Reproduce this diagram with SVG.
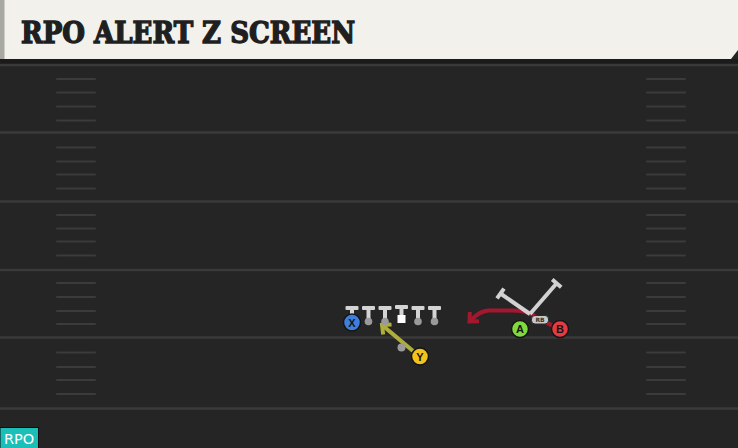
<svg xmlns="http://www.w3.org/2000/svg" width="738" height="448" viewBox="0 0 738 448">
  <defs>
    <style>
      .yard { stroke: #3a3a3a; stroke-width: 2.5; }
      .hash { stroke: #3b3b3b; stroke-width: 2; stroke-linecap: round; }
      .stem { fill: #d4d4d4; }
      .dot { fill: #9a9a9a; }
      .player { stroke: #151515; stroke-width: 1.5; }
      .plabel { font-family: "Liberation Sans", Arial, sans-serif; font-weight: bold; font-size: 11px; fill: #151515; text-anchor: middle; }
      .block { stroke: #d2d2d2; stroke-width: 4; fill: none; stroke-linecap: butt; }
      .blockcap { stroke: #d2d2d2; stroke-width: 4; stroke-linecap: butt; }
    </style>
    <marker id="arrow-red" markerUnits="userSpaceOnUse" markerWidth="16" markerHeight="16" viewBox="0 0 16 16" refX="11" refY="8" orient="auto">
      <path d="M4,1.5 L11,8 L4,14.5" fill="none" stroke="#a3172f" stroke-width="4"/>
    </marker>
    <marker id="arrow-olive" markerUnits="userSpaceOnUse" markerWidth="16" markerHeight="16" viewBox="0 0 16 16" refX="11" refY="8" orient="auto">
      <path d="M4,1.5 L11,8 L4,14.5" fill="none" stroke="#aeae3c" stroke-width="4"/>
    </marker>
  </defs>

  <!-- field -->
  <rect x="0" y="0" width="738" height="448" fill="#252525"/>
  <rect x="0" y="59" width="738" height="6" fill="#1b1b1b"/>
  <g id="yard-lines">
    <line class="yard" x1="0" y1="65" x2="738" y2="65"/>
    <line class="yard" x1="0" y1="132.5" x2="738" y2="132.5"/>
    <line class="yard" x1="0" y1="201.5" x2="738" y2="201.5"/>
    <line class="yard" x1="0" y1="270" x2="738" y2="270"/>
    <line class="yard" x1="0" y1="337.5" x2="738" y2="337.5"/>
    <line class="yard" x1="0" y1="408.5" x2="738" y2="408.5"/>
  </g>
  <g id="hash-left">
    <line class="hash" x1="57" y1="79" x2="95" y2="79"/>
    <line class="hash" x1="57" y1="92.5" x2="95" y2="92.5"/>
    <line class="hash" x1="57" y1="106.5" x2="95" y2="106.5"/>
    <line class="hash" x1="57" y1="120.5" x2="95" y2="120.5"/>
    <line class="hash" x1="57" y1="147.5" x2="95" y2="147.5"/>
    <line class="hash" x1="57" y1="161.5" x2="95" y2="161.5"/>
    <line class="hash" x1="57" y1="174.5" x2="95" y2="174.5"/>
    <line class="hash" x1="57" y1="188.5" x2="95" y2="188.5"/>
    <line class="hash" x1="57" y1="215" x2="95" y2="215"/>
    <line class="hash" x1="57" y1="228.5" x2="95" y2="228.5"/>
    <line class="hash" x1="57" y1="241.5" x2="95" y2="241.5"/>
    <line class="hash" x1="57" y1="255.5" x2="95" y2="255.5"/>
    <line class="hash" x1="57" y1="283" x2="95" y2="283"/>
    <line class="hash" x1="57" y1="297" x2="95" y2="297"/>
    <line class="hash" x1="57" y1="311" x2="95" y2="311"/>
    <line class="hash" x1="57" y1="324" x2="95" y2="324"/>
    <line class="hash" x1="57" y1="352.5" x2="95" y2="352.5"/>
    <line class="hash" x1="57" y1="367" x2="95" y2="367"/>
    <line class="hash" x1="57" y1="380" x2="95" y2="380"/>
    <line class="hash" x1="57" y1="394" x2="95" y2="394"/>
  </g>
  <g id="hash-right">
    <line class="hash" x1="647" y1="79" x2="685" y2="79"/>
    <line class="hash" x1="647" y1="92.5" x2="685" y2="92.5"/>
    <line class="hash" x1="647" y1="106.5" x2="685" y2="106.5"/>
    <line class="hash" x1="647" y1="120.5" x2="685" y2="120.5"/>
    <line class="hash" x1="647" y1="147.5" x2="685" y2="147.5"/>
    <line class="hash" x1="647" y1="161.5" x2="685" y2="161.5"/>
    <line class="hash" x1="647" y1="174.5" x2="685" y2="174.5"/>
    <line class="hash" x1="647" y1="188.5" x2="685" y2="188.5"/>
    <line class="hash" x1="647" y1="215" x2="685" y2="215"/>
    <line class="hash" x1="647" y1="228.5" x2="685" y2="228.5"/>
    <line class="hash" x1="647" y1="241.5" x2="685" y2="241.5"/>
    <line class="hash" x1="647" y1="255.5" x2="685" y2="255.5"/>
    <line class="hash" x1="647" y1="283" x2="685" y2="283"/>
    <line class="hash" x1="647" y1="297" x2="685" y2="297"/>
    <line class="hash" x1="647" y1="311" x2="685" y2="311"/>
    <line class="hash" x1="647" y1="324" x2="685" y2="324"/>
    <line class="hash" x1="647" y1="352.5" x2="685" y2="352.5"/>
    <line class="hash" x1="647" y1="367" x2="685" y2="367"/>
    <line class="hash" x1="647" y1="380" x2="685" y2="380"/>
    <line class="hash" x1="647" y1="394" x2="685" y2="394"/>
  </g>

  <!-- header -->
  <g id="header">
    <polygon points="0,0 738,0 738,50 731,59 0,59" fill="#f3f1eb"/>
    <rect x="0" y="0" width="4.5" height="59" fill="#a9a9a4"/>
    <text x="21" y="43" font-family="'DejaVu Serif Condensed','DejaVu Serif',serif" font-weight="bold" font-size="29" textLength="334" lengthAdjust="spacingAndGlyphs" fill="#1f1f1f" stroke="#1f1f1f" stroke-width="1.3" stroke-linejoin="miter">RPO ALERT Z SCREEN</text>
  </g>

  <!-- connectors -->
  <g id="connectors">
    <path d="M553,326 L533,315 C526,311 520,310.5 512,310.5 L489,310.5 C481,310.5 475,316 469.5,321.5" fill="none" stroke="#a3172f" stroke-width="4.2" marker-end="url(#arrow-red)"/>
    <line class="block" x1="530" y1="314" x2="500.5" y2="293.5"/>
    <line class="blockcap" x1="497" y1="298.4" x2="504" y2="288.6"/>
    <line class="block" x1="530" y1="314" x2="556.7" y2="283.3"/>
    <line class="blockcap" x1="552.2" y1="279.4" x2="561.2" y2="287.2"/>
    <line x1="413" y1="351" x2="382" y2="325" stroke="#aeae3c" stroke-width="4.2" marker-end="url(#arrow-olive)"/>
  </g>

  <!-- offensive line -->
  <g id="ol-1">
    <rect class="stem" x="345.5" y="306" width="13" height="4" rx="1"/>
    <rect class="stem" x="350" y="309" width="4" height="10"/>
  </g>
  <g id="ol-2">
    <rect class="stem" x="362" y="306" width="13" height="4" rx="1"/>
    <rect class="stem" x="366.5" y="309" width="4" height="11"/>
    <circle class="dot" cx="368.5" cy="321.5" r="3.8"/>
  </g>
  <g id="ol-3">
    <rect class="stem" x="378.5" y="306" width="13" height="4" rx="1"/>
    <rect class="stem" x="383" y="309" width="4" height="11"/>
    <circle class="dot" cx="385" cy="321.5" r="3.8"/>
  </g>
  <g id="ol-center">
    <rect class="stem" x="395" y="305" width="13" height="4" rx="1"/>
    <rect class="stem" x="399.5" y="308" width="4" height="8"/>
    <rect x="397.5" y="315" width="8" height="8" fill="#ffffff"/>
  </g>
  <g id="ol-5">
    <rect class="stem" x="411.5" y="306" width="13" height="4" rx="1"/>
    <rect class="stem" x="416" y="309" width="4" height="11"/>
    <circle class="dot" cx="418" cy="321.5" r="3.8"/>
  </g>
  <g id="ol-6">
    <rect class="stem" x="428" y="306" width="13" height="4" rx="1"/>
    <rect class="stem" x="432.5" y="309" width="4" height="11"/>
    <circle class="dot" cx="434.5" cy="321.5" r="3.8"/>
  </g>

  <!-- Y pre-snap dot -->
  <g id="y-start">
    <circle class="dot" cx="401.5" cy="347.5" r="4"/>
  </g>

  <!-- players -->
  <g id="player-X">
    <circle class="player" cx="352" cy="322.5" r="8.5" fill="#3d7fdf"/>
    <text class="plabel" x="352" y="326.5">X</text>
  </g>
  <g id="player-Y">
    <circle class="player" cx="420" cy="356.5" r="8.5" fill="#f2c31b"/>
    <text class="plabel" x="420" y="360.5">Y</text>
  </g>
  <g id="RB">
    <rect x="531.5" y="315.5" width="17" height="8.5" rx="3.5" fill="#c9c9c9" stroke="#2a2a2a" stroke-width="1"/>
    <text x="540" y="322" font-family="'DejaVu Sans',sans-serif" font-weight="bold" font-size="6" fill="#333333" text-anchor="middle">RB</text>
  </g>
  <g id="player-A">
    <circle class="player" cx="520" cy="329" r="8.5" fill="#7fdb3d"/>
    <text class="plabel" x="520" y="333">A</text>
  </g>
  <g id="player-B">
    <circle class="player" cx="560" cy="329" r="8.5" fill="#e63a42"/>
    <text class="plabel" x="560" y="333">B</text>
  </g>

  <!-- badge -->
  <g id="badge-RPO">
    <rect x="0" y="427.5" width="38.5" height="21" fill="#1bbfb8" stroke="#0e0e0e" stroke-width="1"/>
    <text x="19" y="444" font-family="'DejaVu Sans',sans-serif" font-size="14.5" fill="#ffffff" text-anchor="middle">RPO</text>
  </g>
</svg>
